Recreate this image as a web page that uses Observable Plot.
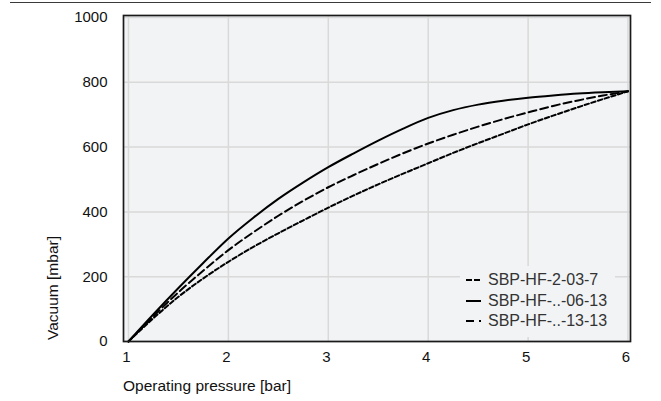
<!DOCTYPE html>
<html>
<head>
<meta charset="utf-8">
<script src="https://cdn.jsdelivr.net/npm/d3@7"></script>
<script src="https://cdn.jsdelivr.net/npm/@observablehq/plot@0.6"></script>
<style>
  body { margin: 0; background: #fff; }
  #wrap { position: relative; width: 661px; height: 401px; font-family: "Liberation Sans", Arial, sans-serif; color: #111; }
  #topline { position: absolute; left: 10px; top: 2px; width: 641px; height: 0; border-top: 1.5px solid #3a3a3a; }
  #chart { position: absolute; left: 0; top: 0; }
  .xlabel { position: absolute; left: 123px; top: 378px; font-size: 15.5px; line-height: 1; white-space: nowrap; }
  .ylabel { position: absolute; left: 53px; top: 288px; font-size: 15.5px; line-height: 1; white-space: nowrap; transform: translate(-50%, -50%) rotate(-90deg); }
  #legend { position: absolute; left: 460px; top: 266px; width: 155px; height: 71px; background: #f2f3f5; }
  .row { position: absolute; left: 6px; height: 20px; display: flex; align-items: center; font-size: 16px; color: #333; white-space: nowrap; }
  .row svg { margin-right: 7px; }
</style>
</head>
<body>
<div id="wrap">
  <div id="chart"></div>
  <div id="topline"></div>
  <div class="xlabel" id="xlab"></div>
  <div class="ylabel" id="ylab"></div>
  <div id="legend"></div>
</div>
<script>
// ---- data ----
const pressure = [1, 1.25, 1.5, 1.75, 2, 2.25, 2.5, 2.75, 3, 3.25, 3.5, 3.75, 4, 4.25, 4.5, 4.75, 5, 5.25, 5.5, 5.75, 6];
const sbp2037 = [0, 72, 138, 195, 246, 292, 334, 374, 413, 450, 485, 518, 550, 582, 612, 641, 670, 697, 723, 748, 772];
const sbp0613 = [0, 84, 165, 243, 318, 382, 440, 491, 538, 580, 620, 657, 690, 714, 731, 743, 752, 759, 765, 769, 772];
const sbp1313 = [0, 78, 152, 219, 282, 337, 388, 434, 476, 513, 548, 581, 611, 638, 663, 686, 707, 727, 744, 759, 772];
const seriesNames = ["SBP-HF-2-03-7", "SBP-HF-..-06-13", "SBP-HF-..-13-13"];
const seriesDash = ["4.5,2.5", null, "8,4"];
const legendDash = ["6,2", null, "8,5"];
const xTicks = [1, 2, 3, 4, 5, 6];
const yTicks = [0, 200, 400, 600, 800, 1000];
const xTitle = "Operating pressure [bar]";
const yTitle = "Vacuum [mbar]";

const seriesValues = [sbp2037, sbp0613, sbp1313];
const rows = seriesNames.flatMap((name, s) =>
  pressure.map((p, i) => ({ name, x: p, y: seriesValues[s][i] })));

const lineMarks = seriesNames.map((name, s) =>
  Plot.line(rows.filter(d => d.name === name), {
    x: "x", y: "y", stroke: "#000", strokeWidth: 2,
    strokeDasharray: seriesDash[s] || undefined,
    curve: "monotone-x"
  }));

const chart = Plot.plot({
  width: 661, height: 401,
  marginLeft: 123, marginRight: 31, marginTop: 15, marginBottom: 60,
  x: { domain: [0.95, 6.025], label: null },
  y: { domain: [0, 1006], label: null },
  style: { fontFamily: '"Liberation Sans", Arial, sans-serif', fontSize: "15px", color: "#111", background: "transparent" },
  marks: [
    Plot.frame({ fill: "#f2f3f5" }),
    Plot.gridX(xTicks, { stroke: "#d9d9d9", strokeOpacity: 1, strokeWidth: 1.5 }),
    Plot.gridY(yTicks, { stroke: "#d9d9d9", strokeOpacity: 1, strokeWidth: 1.5 }),
    ...lineMarks,
    Plot.frame({ stroke: "#1a1a1a", strokeWidth: 1.7 }),
    Plot.axisX(xTicks, { tickSize: 0, tickPadding: 10, dx: -2, tickFormat: d => String(d), label: null, fontSize: 15 }),
    Plot.axisY(yTicks, { tickSize: 0, tickPadding: 16, tickFormat: d => String(d), label: null, fontSize: 15 })
  ]
});
document.getElementById("chart").appendChild(chart);
document.getElementById("xlab").textContent = xTitle;
document.getElementById("ylab").textContent = yTitle;

const legend = document.getElementById("legend");
seriesNames.forEach((name, s) => {
  const row = document.createElement("div");
  row.className = "row";
  row.style.top = (4 + s * 20.5) + "px";
  const dash = legendDash[s] ? ` stroke-dasharray="${legendDash[s]}"` : "";
  row.innerHTML = `<svg width="15" height="6"><line x1="0" y1="3" x2="15" y2="3" stroke="#000" stroke-width="2"${dash}/></svg><span></span>`;
  row.querySelector("span").textContent = name;
  legend.appendChild(row);
});
</script>
</body>
</html>
